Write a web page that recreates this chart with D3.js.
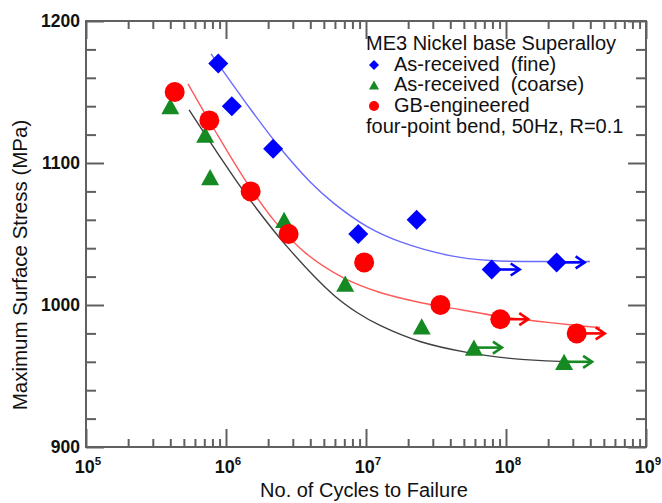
<!DOCTYPE html>
<html><head><meta charset="utf-8">
<script src="https://cdn.jsdelivr.net/npm/d3@7"></script>
<style>
body{margin:0;background:#fff;}
svg{display:block;}
text{font-family:Arial,"Liberation Sans",sans-serif;white-space:pre;}
</style></head>
<body><svg id="c" width="662" height="503"></svg>
<script>
// ---- data ----
const fineN = [8.8e5, 1.1e6, 2.17e6, 8.8e6, 2.3e7, 7.9e7, 2.3e8];
const fineS = [1170, 1140, 1110, 1050, 1060, 1025, 1030];
const fineRunout = [0,0,0,0,0,1,1];

const coarseN = [4.0e5, 7.1e5, 7.7e5, 2.6e6, 7.1e6, 2.5e7, 5.9e7, 2.6e8];
const coarseS = [1140, 1120, 1090, 1060, 1015, 985, 970, 960];
const coarseRunout = [0,0,0,0,0,0,1,1];

const gbN = [4.3e5, 7.6e5, 1.5e6, 2.8e6, 9.7e6, 3.4e7, 9.1e7, 3.2e8];
const gbS = [1150, 1130, 1080, 1050, 1030, 1000, 990, 980];
const gbRunout = [0,0,0,0,0,0,1,1];

// fitted curves
const fineCurveN = [7.82e5, 1.37e6, 2.43e6, 3.98e6, 5.81e6, 1.02e7, 1.75e7, 3.98e7, 7.69e7, 2.24e8, 3.98e8];
const fineCurveS = [1176.8, 1143.1, 1110.7, 1086.8, 1072.1, 1055.2, 1044.6, 1034.8, 1031.3, 1030.6, 1030.6];
const gbCurveN = [5.35e5, 8.35e5, 1.41e6, 2.24e6, 3.67e6, 6.85e6, 1.26e7, 2.43e7, 4.69e7, 9.06e7, 1.75e8, 3.21e8, 4.69e8];
const gbCurveS = [1155.7, 1122.7, 1086.1, 1058.7, 1036.9, 1019.3, 1008.8, 1001.8, 996.8, 991.9, 988.4, 985.6, 984.2];
const coarseCurveN = [5.45e5, 8.77e5, 1.41e6, 2.73e6, 5.81e6, 8.63e6, 1.26e7, 2.43e7, 5.26e7, 1.07e8, 2.43e8, 2.86e8];
const coarseCurveS = [1137.4, 1106.5, 1077.0, 1041.1, 1007.4, 994.7, 985.6, 974.3, 966.6, 962.4, 960.3, 960.3];

const xTicks = [1e5, 1e6, 1e7, 1e8, 1e9];
const xTickExp = ["5", "6", "7", "8", "9"];
const yTicks = [900, 1000, 1100, 1200];

const legendTitle = "ME3 Nickel base Superalloy";
const legendLabels = ["As-received  (fine)", "As-received  (coarse)", "GB-engineered"];
const legendNote = "four-point bend, 50Hz, R=0.1";
const xTitle = "No. of Cycles to Failure";
const yTitle = "Maximum Surface Stress (MPa)";

// ---- layout ----
const L = 86, T = 21, R = 646, B = 447;
const svg = d3.select("#c");
const x = d3.scaleLog().domain([1e5, 1e9]).range([L, R]);
const y = d3.scaleLinear().domain([900, 1200]).range([B, T]);

const BLUE = "#0000ff", GREEN = "#168a22", RED = "#ff0000";
const AX = "#606060";

// minor ticks
const xMinor = [];
for (let e = 5; e < 9; e++) for (let k = 2; k <= 9; k++) xMinor.push(k * Math.pow(10, e));
const yMinor = d3.range(900, 1201, 20).filter(v => v % 100 !== 0);

function axisStyle(g){ g.select(".domain").remove(); g.selectAll("line").attr("stroke", AX).attr("stroke-width", 2); g.selectAll("text").remove(); }

svg.append("g").attr("transform", `translate(0,${B})`).call(d3.axisBottom(x).tickValues(xTicks).tickSize(-18)).call(axisStyle);
svg.append("g").attr("transform", `translate(0,${B})`).call(d3.axisBottom(x).tickValues(xMinor).tickSize(-8)).call(axisStyle);
svg.append("g").attr("transform", `translate(0,${T})`).call(d3.axisTop(x).tickValues(xTicks).tickSize(-18)).call(axisStyle);
svg.append("g").attr("transform", `translate(0,${T})`).call(d3.axisTop(x).tickValues(xMinor).tickSize(-8)).call(axisStyle);
svg.append("g").attr("transform", `translate(${L},0)`).call(d3.axisLeft(y).tickValues(yTicks).tickSize(-18)).call(axisStyle);
svg.append("g").attr("transform", `translate(${L},0)`).call(d3.axisLeft(y).tickValues(yMinor).tickSize(-10)).call(axisStyle);
svg.append("g").attr("transform", `translate(${R},0)`).call(d3.axisRight(y).tickValues(yTicks).tickSize(-18)).call(axisStyle);
svg.append("g").attr("transform", `translate(${R},0)`).call(d3.axisRight(y).tickValues(yMinor).tickSize(-10)).call(axisStyle);

svg.append("rect").attr("x", L).attr("y", T).attr("width", R - L).attr("height", B - T)
  .attr("fill", "none").attr("stroke", AX).attr("stroke-width", 2);

// tick labels
svg.selectAll(".ylab").data(yTicks).join("text")
  .attr("x", L - 6).attr("y", d => y(d) + 6).attr("text-anchor", "end")
  .attr("font-size", 17.5).attr("font-weight", "bold").attr("fill", "#111").text(d => d);
const xl = svg.selectAll(".xlab").data(xTicks).join("text")
  .attr("x", d => x(d) + 2).attr("y", B + 26).attr("text-anchor", "middle")
  .attr("font-size", 18).attr("font-weight", "bold").attr("fill", "#111");
xl.append("tspan").text("10");
xl.append("tspan").attr("dy", -8).attr("font-size", 11.5).text((d, i) => xTickExp[i]);

// titles
svg.append("text").attr("x", 364).attr("y", 497).attr("text-anchor", "middle")
  .attr("font-size", 20).attr("fill", "#111").text(xTitle);
svg.append("text").attr("transform", "translate(27,265) rotate(-90)").attr("text-anchor", "middle")
  .attr("font-size", 20.5).attr("fill", "#111").text(yTitle);

// curves
const line = d3.line().x(d => x(d[0])).y(d => y(d[1])).curve(d3.curveCatmullRom.alpha(0.5));
svg.append("path").attr("d", line(fineCurveN.map((n, i) => [n, fineCurveS[i]])))
  .attr("fill", "none").attr("stroke", "#6a6aff").attr("stroke-width", 1.4);
svg.append("path").attr("d", line(gbCurveN.map((n, i) => [n, gbCurveS[i]])))
  .attr("fill", "none").attr("stroke", "#ff5a5a").attr("stroke-width", 1.4);
svg.append("path").attr("d", line(coarseCurveN.map((n, i) => [n, coarseCurveS[i]])))
  .attr("fill", "none").attr("stroke", "#404040").attr("stroke-width", 1.4);

// markers
function diamond(s){ return `M0,${-s}L${s},0L0,${s}L${-s},0Z`; }
function tri(s){ const h = s * 0.9; return `M0,${-h}L${s},${h}L${-s},${h}Z`; }

function arrows(g, N, S, runout, color){
  const pts = N.map((n, i) => ({n, s: S[i], r: runout[i]})).filter(d => d.r);
  const a = g.selectAll(null).data(pts).join("g")
    .attr("transform", d => `translate(${x(d.n)},${y(d.s)})`)
    .attr("stroke", color).attr("stroke-width", 2.6).attr("fill", "none");
  a.append("line").attr("x1", 0).attr("x2", 28).attr("y1", 0).attr("y2", 0);
  a.append("path").attr("d", "M19,-6L28,0L19,6");
}
const gm = svg.append("g");
arrows(gm, coarseN, coarseS, coarseRunout, GREEN);
arrows(gm, gbN, gbS, gbRunout, RED);
arrows(gm, fineN, fineS, fineRunout, BLUE);

gm.selectAll(".tri").data(coarseN).join("path")
  .attr("transform", (d, i) => `translate(${x(d)},${y(coarseS[i])})`)
  .attr("d", tri(9)).attr("fill", GREEN);
gm.selectAll(".circ").data(gbN).join("circle")
  .attr("cx", d => x(d)).attr("cy", (d, i) => y(gbS[i])).attr("r", 10).attr("fill", RED);
gm.selectAll(".dia").data(fineN).join("path")
  .attr("transform", (d, i) => `translate(${x(d)},${y(fineS[i])})`)
  .attr("d", diamond(10)).attr("fill", BLUE);

// legend
const lg = svg.append("g").attr("font-size", 20).attr("fill", "#111");
lg.append("text").attr("x", 366).attr("y", 50).text(legendTitle);
const ly = [71, 91, 112];
legendLabels.forEach((t, i) => lg.append("text").attr("x", 394).attr("y", ly[i]).text(t));
lg.append("text").attr("x", 366).attr("y", 133).text(legendNote);
lg.append("path").attr("transform", `translate(374,${ly[0]-6})`).attr("d", diamond(5)).attr("fill", BLUE);
lg.append("path").attr("transform", `translate(374,${ly[1]-6})`).attr("d", tri(5)).attr("fill", GREEN);
lg.append("circle").attr("cx", 374).attr("cy", ly[2]-6).attr("r", 5).attr("fill", RED);
</script></body></html>
